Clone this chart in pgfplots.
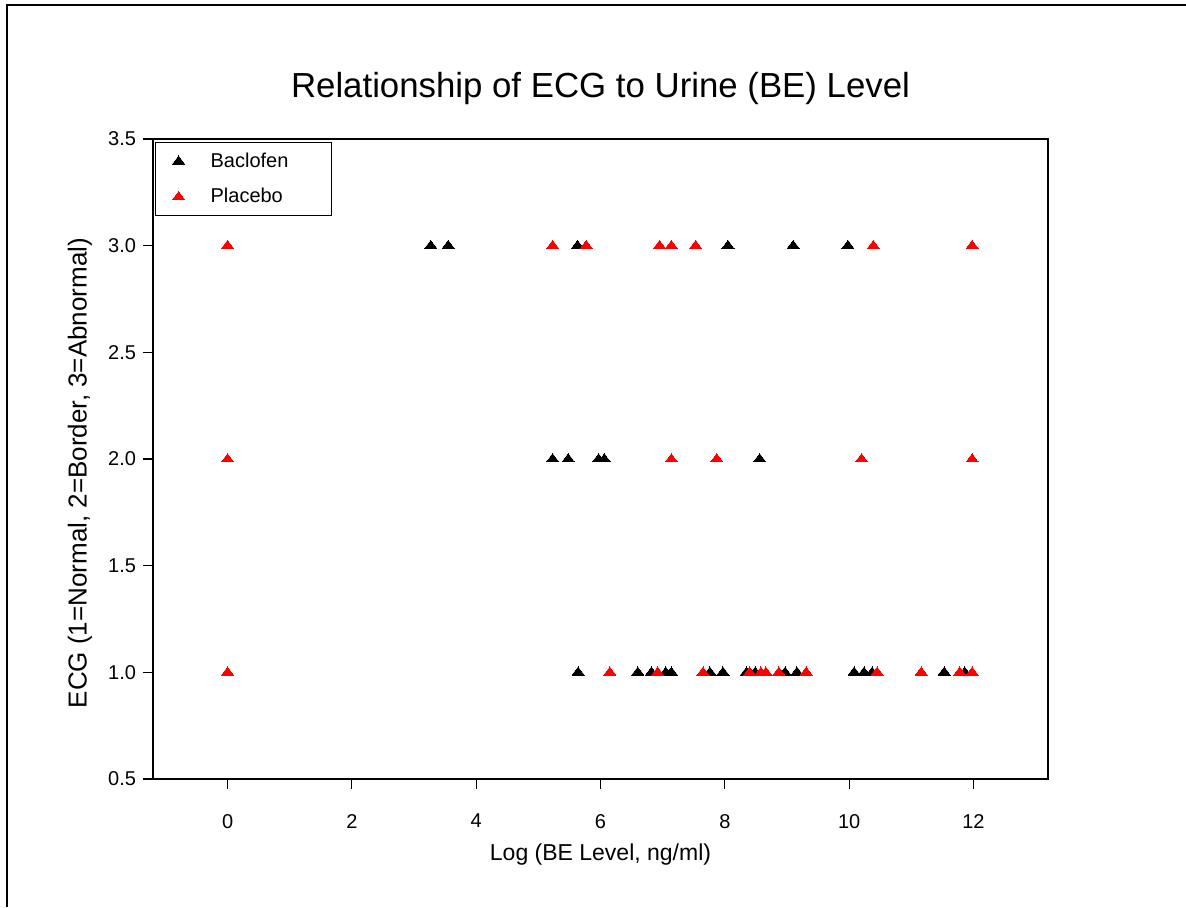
\documentclass[border=0pt]{standalone}
\usepackage{pgfplots}
\pgfplotsset{compat=1.18}
\usepackage{fontspec}
\setmainfont{Liberation Sans}

\pgfplotstableread{
x y
3.27 3
3.55 3
5.63 3
8.05 3
9.10 3
9.98 3
5.23 2
5.48 2
5.97 2
6.06 2
8.56 2
5.64 1
6.60 1
6.82 1
7.05 1
7.14 1
7.76 1
7.97 1
8.35 1
8.49 1
8.97 1
9.16 1
10.08 1
10.24 1
10.37 1
11.53 1
11.86 1
}\baclofen

\pgfplotstableread{
x y
0 3
5.23 3
5.77 3
6.95 3
7.14 3
7.53 3
10.39 3
11.98 3
0 2
7.14 2
7.87 2
10.20 2
11.98 2
0 1
6.15 1
6.92 1
7.65 1
8.40 1
8.58 1
8.66 1
8.87 1
9.31 1
10.45 1
11.16 1
11.78 1
11.98 1
}\placebo

\begin{document}
\begin{tikzpicture}
\useasboundingbox (0,0) rectangle (593pt,-453.5pt);
\draw[line width=1pt] (3.5pt,-453.5pt) -- (3.5pt,-2.5pt) -- (593pt,-2.5pt);
\begin{axis}[
  at={(76.5pt,-389.5pt)}, anchor=south west,
  scale only axis, width=447.5pt, height=320pt,
  xmin=-1.2, xmax=13.2, ymin=0.5, ymax=3.5,
  xtick={0,2,...,12}, ytick={0.5,1,...,3.5},
  tick pos=left, tick align=outside, major tick length=5pt,
  axis line style={line width=0.8pt}, tick style={line width=0.6pt, black},
  /pgf/number format/assume math mode=true,
  yticklabel style={/pgf/number format/.cd, fixed, fixed zerofill, precision=1},
  ticklabel style={font=\fontsize{10}{12}\selectfont},
  xticklabel style={yshift=-9pt},
  title={Relationship of ECG to Urine (BE) Level},
  title style={font=\fontsize{17.4}{20}\selectfont, at={(0.5,1)}, anchor=base, yshift=15pt},
  xlabel={Log (BE Level, ng/ml)},
  xlabel style={font=\fontsize{11.5}{14}\selectfont, at={(0.5,0)}, anchor=base, yshift=-40.5pt},
  ylabel={ECG (1=Normal, 2=Border, 3=Abnormal)},
  ylabel style={font=\fontsize{13}{15}\selectfont, at={(-0.0816,0.478)}, anchor=center},
  legend style={at={(0,1)}, anchor=north west, xshift=1pt, yshift=-1.5pt,
    draw=black, line width=0.6pt, font=\fontsize{10}{12}\selectfont,
    inner xsep=3.5pt, inner ysep=3pt, row sep=5pt, cells={anchor=west}},
  legend image code/.code={\path[draw=none,fill=none] (0pt,-3pt) rectangle (22pt,3pt);\draw[mark repeat=2,mark phase=2] plot coordinates {(0pt,0pt)(8pt,0pt)(16pt,0pt)};},
]
\addplot[only marks, mark=triangle*, mark size=2.7pt, mark options={xscale=1.3, draw=black, fill=black, line width=0pt}] table[x=x,y=y] {\baclofen};
\addlegendentry{\makebox[55pt][l]{Baclofen}}
\addplot[only marks, mark=triangle*, mark size=2.7pt, mark options={xscale=1.3, draw=red, fill=red, line width=0pt}] table[x=x,y=y] {\placebo};
\addlegendentry{Placebo}
\end{axis}
\end{tikzpicture}
\end{document}
